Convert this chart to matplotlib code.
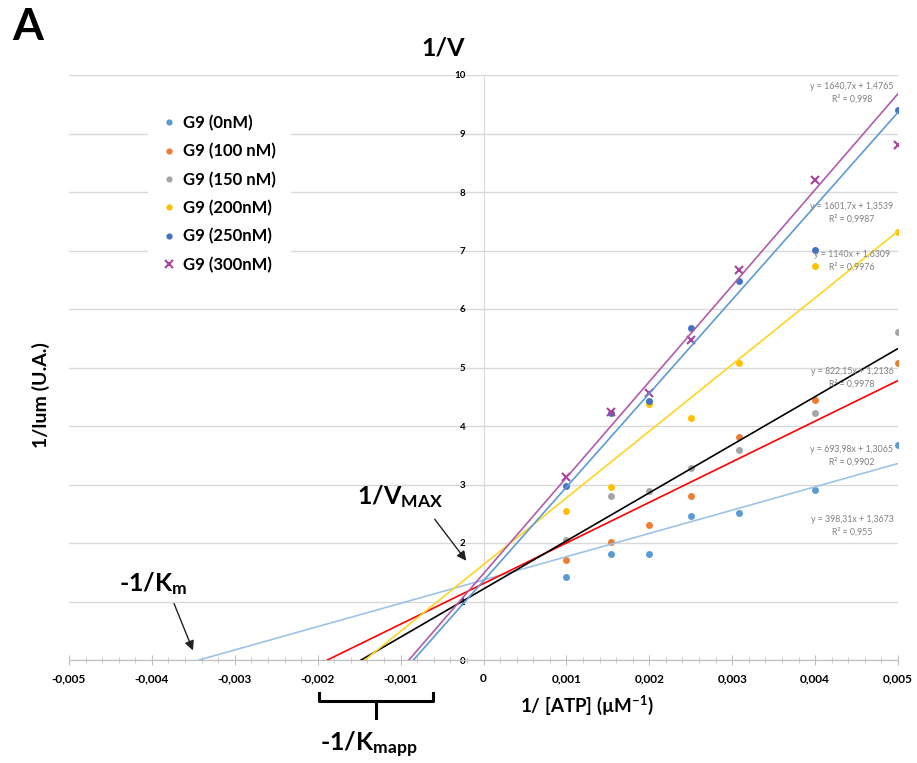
import matplotlib
matplotlib.use("Agg")
import matplotlib.pyplot as plt
from matplotlib.lines import Line2D
from matplotlib.ticker import MultipleLocator, FuncFormatter
import numpy as np

plt.rcParams['font.family'] = ['Lato', 'DejaVu Sans']
plt.rcParams['mathtext.fontset'] = 'custom'
plt.rcParams['mathtext.rm'] = 'Lato:bold'
plt.rcParams['mathtext.bf'] = 'Lato:bold'
plt.rcParams['mathtext.it'] = 'Lato:bold'

# ---------------- data ----------------
inv_atp = [0.001, 0.001538, 0.002, 0.0025, 0.003077, 0.004, 0.005]
labels = ["G9 (0nM)", "G9 (100 nM)", "G9 (150 nM)", "G9 (200nM)", "G9 (250nM)", "G9 (300nM)"]
g9_0 = [1.42, 1.81, 1.81, 2.47, 2.51, 2.90, 3.68]
g9_100 = [1.71, 2.02, 2.30, 2.80, 3.82, 4.44, 5.07]
g9_150 = [2.05, 2.80, 2.89, 3.28, 3.59, 4.23, 5.60]
g9_200 = [2.55, 2.96, 4.38, 4.13, 5.07, 6.73, 7.32]
g9_250 = [2.97, 4.22, 4.42, 5.68, 6.48, 7.01, 9.40]
g9_300 = [3.13, 4.24, 4.57, 5.47, 6.67, 8.21, 8.80]
series = [g9_0, g9_100, g9_150, g9_200, g9_250, g9_300]

# trendline fits (slope, intercept) and R^2 shown on chart
slopes = [398.31, 693.98, 822.15, 1140.0, 1601.7, 1640.7]
intercepts = [1.3673, 1.3065, 1.2136, 1.6309, 1.3539, 1.4765]
r2 = ["0,955", "0,9902", "0,9978", "0,9976", "0,9987", "0,998"]
eq_text = ["y = 398,31x + 1,3673", "y = 693,98x + 1,3065", "y = 822,15x + 1,2136",
           "y = 1140x + 1,6309", "y = 1601,7x + 1,3539", "y = 1640,7x + 1,4765"]

marker_colors = ["#5B9BD5", "#ED7D31", "#A5A5A5", "#FFC000", "#4472C4", "#A5449F"]
line_colors = ["#9DC3E6", "#FF0000", "#000000", "#FFD520", "#5B9BD5", "#B35AAB"]
markers = ["o", "o", "o", "o", "o", "x"]

W, H = 917, 763
fig = plt.figure(figsize=(W / 100, H / 100), dpi=100)
ax = fig.add_axes([69 / W, 1 - 660 / H, (898 - 69) / W, (660 - 75) / H])

def P(px, py):
    return (px / W, 1 - py / H)

x_end = 0.005
for ys, m, b, mc, lc, mk, lab in zip(series, slopes, intercepts, marker_colors, line_colors, markers, labels):
    if mk == "x":
        ax.plot(inv_atp, ys, linestyle="none", marker="x", ms=6, mew=1.5, color=mc, label=lab, zorder=3)
    else:
        ax.plot(inv_atp, ys, linestyle="none", marker="o", ms=5, mew=0, color=mc, label=lab, zorder=3)
    x0 = -b / m
    xs = np.array([x0, x_end])
    ax.plot(xs, m * xs + b, color=lc, lw=1.2, zorder=4)

ax.set_xlim(-0.005, 0.005)
ax.set_ylim(0, 10)

# grid
ax.yaxis.grid(True, color="#D9D9D9", lw=1)
ax.set_axisbelow(True)

for s in ["top", "right"]:
    ax.spines[s].set_visible(False)
ax.spines["left"].set_position(("data", 0))
ax.spines["left"].set_color("#D9D9D9")
ax.spines["bottom"].set_color("#BFBFBF")

ax.xaxis.set_major_locator(MultipleLocator(0.001))
ax.xaxis.set_minor_locator(MultipleLocator(0.0002))
ax.yaxis.set_major_locator(MultipleLocator(1))

def xfmt(v, pos):
    if abs(v) < 1e-12:
        return "0"
    return ("%.3f" % v).replace(".", ",")

ax.xaxis.set_major_formatter(FuncFormatter(xfmt))
ax.yaxis.set_major_formatter(FuncFormatter(lambda v, p: "%d" % round(v)))
ax.tick_params(axis="x", which="major", direction="inout", length=7, color="#BFBFBF",
               labelsize=8.6, pad=6)
ax.tick_params(axis="x", which="minor", direction="inout", length=4, color="#BFBFBF")
ax.tick_params(axis="y", which="major", direction="out", length=3, color="#D9D9D9",
               labelsize=7, pad=10)
for t in ax.get_xticklabels() + ax.get_yticklabels():
    t.set_fontweight("bold")

# legend
leg = ax.legend(loc="upper left", bbox_to_anchor=P(148, 100), bbox_transform=fig.transFigure,
                frameon=True, fancybox=False, edgecolor="none", facecolor="white", framealpha=1,
                prop={"weight": "bold", "size": 12}, handlelength=0.7, handletextpad=0.5,
                labelspacing=0.72, borderpad=0.9, borderaxespad=0, markerscale=0.9)
leg.set_zorder(5)

# equation labels
eq_centers = [526, 456, 378, 261, 213, 93]
for e, r, cy in zip(eq_text, r2, eq_centers):
    fig.text(*P(852, cy), e + "\nR² = " + r, ha="center", va="center", fontsize=6.3,
             color="#7F7F7F", linespacing=1.4)

# titles / annotations
fig.text(*P(12, 27), "A", fontsize=32, fontweight="bold", ha="left", va="center")
fig.text(*P(443, 48), "1/V", fontsize=18, fontweight="bold", ha="center", va="center")
fig.text(*P(41, 395), "1/lum (U.A.)", fontsize=14, fontweight="bold", rotation=90,
         ha="center", va="center")
fig.text(*P(520, 705), r"1/ [ATP] (µM$^{\mathbf{-1}}$)", fontsize=13.5, fontweight="bold",
         ha="left", va="center")

fig.text(*P(400, 497), r"1/V$_{\mathbf{MAX}}$", fontsize=18, fontweight="bold",
         ha="center", va="center")
ax.annotate("", xy=P(468, 563), xytext=P(433, 517), xycoords="figure fraction",
            textcoords="figure fraction",
            arrowprops=dict(arrowstyle="-|>", color="#222222", lw=1, mutation_scale=14))

fig.text(*P(153, 584), r"-1/K$_{\mathbf{m}}$", fontsize=18, fontweight="bold",
         ha="center", va="center")
ax.annotate("", xy=P(194, 653), xytext=P(173, 601), xycoords="figure fraction",
            textcoords="figure fraction",
            arrowprops=dict(arrowstyle="-|>", color="#222222", lw=1, mutation_scale=14))

# bracket for Kmapp
bx = [P(319, 693), P(319, 701), P(433, 701), P(433, 693)]
fig.add_artist(Line2D([p[0] for p in bx], [p[1] for p in bx], color="black", lw=2.2))
st = [P(376, 701), P(376, 718)]
fig.add_artist(Line2D([p[0] for p in st], [p[1] for p in st], color="black", lw=2.2))
fig.text(*P(369, 745), r"-1/K$_{\mathbf{mapp}}$", fontsize=18, fontweight="bold",
         ha="center", va="center")

fig.savefig("out.png", dpi=100, facecolor="white")
